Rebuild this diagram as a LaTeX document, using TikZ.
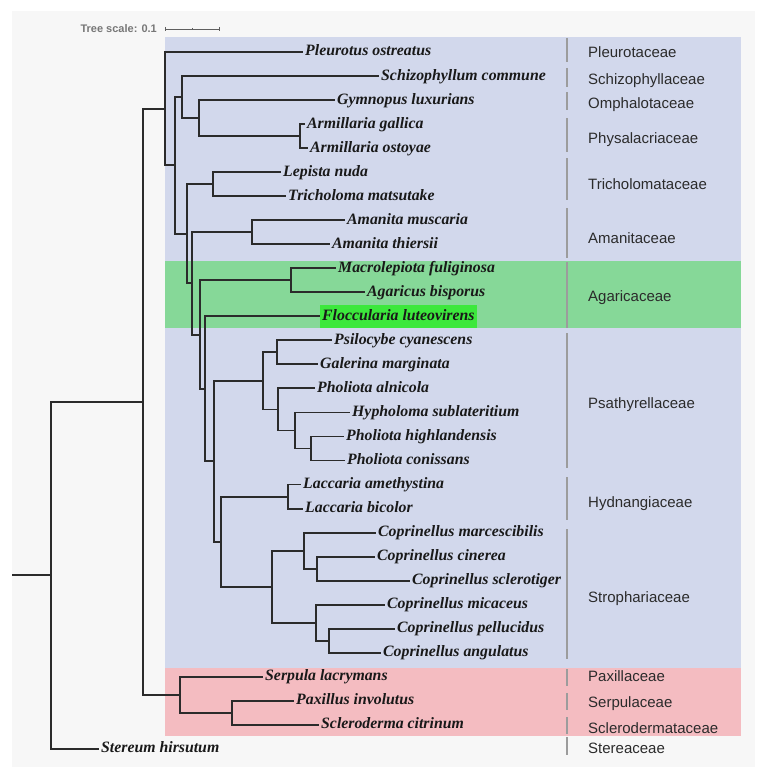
\documentclass[tikz,border=0pt]{standalone}
\usepackage{fontspec}
\setmainfont{Liberation Serif}
\setsansfont{Liberation Sans}
\usepackage{tikz}
\usetikzlibrary{backgrounds}
\definecolor{paper}    {HTML}{F7F7F7}
\definecolor{agblue}   {HTML}{D2D8EC}
\definecolor{aggreen}  {HTML}{86D898}
\definecolor{bolpink}  {HTML}{F4BCC1}
\definecolor{flocgreen}{HTML}{3CE83C}
\definecolor{ink}      {HTML}{2B2B2B}
\definecolor{inkgray}  {HTML}{777777}
\definecolor{bargray}  {HTML}{9C9C9C}

\begin{document}
\begin{tikzpicture}[x=1pt,y=-1pt,
    branch/.style={ink,line width=1.9pt},
    leaf/.style={anchor=west,inner xsep=2pt,inner ysep=4pt,text height=11pt,text depth=3pt,
      font=\fontsize{15.8}{18}\selectfont\bfseries\itshape,text=black!90},
    family/.style={anchor=west,inner sep=0pt,text height=10.7pt,text depth=0pt,
      font=\sffamily\fontsize{15}{17}\selectfont,text=ink},
    sepbar/.style={bargray,line width=2pt},
    scaletext/.style={anchor=east,inner sep=2pt,font=\sffamily\bfseries\fontsize{11}{13}\selectfont,text=inkgray},
    scalebar/.style={inkgray!80!black,line width=0.8pt}]
        \useasboundingbox (0,0) rectangle (763,776);
        \node[scaletext] (scale) at (159,29) {Tree scale: 0.1};
        \draw[scalebar] (165,29) -- (219,29) (165,27) -- (165,31) (192,28) -- (192,30) (219,27) -- (219,31);
        \foreach \sp/\tx [count=\i] in {
          Pleurotus ostreatus/305, Schizophyllum commune/381, Gymnopus luxurians/337,
          Armillaria gallica/307, Armillaria ostoyae/310, Lepista nuda/283,
          Tricholoma matsutake/288, Amanita muscaria/347, Amanita thiersii/332,
          Macrolepiota fuliginosa/338, Agaricus bisporus/367, Floccularia luteovirens/322,
          Psilocybe cyanescens/334, Galerina marginata/320, Pholiota alnicola/317,
          Hypholoma sublateritium/352, Pholiota highlandensis/346, Pholiota conissans/347,
          Laccaria amethystina/303, Laccaria bicolor/305, Coprinellus marcescibilis/378,
          Coprinellus cinerea/377, Coprinellus sclerotiger/412, Coprinellus micaceus/387,
          Coprinellus pellucidus/397, Coprinellus angulatus/383, Serpula lacrymans/265,
          Paxillus involutus/296, Scleroderma citrinum/321, Stereum hirsutum/101} {
          \node[leaf] (l\i) at (\tx-2,{52+24.03*(\i-1)}) {\sp};
        }
        \coordinate (stem) at (12,575.3);
        \coordinate (root) at (51,575.3);
        \coordinate (ingroup) at (143,401.75);
        \coordinate (agaricales) at (165,108.7);
        \coordinate (nb) at (175,165.4);
        \coordinate (nc) at (182,97.05);
        \coordinate (ne) at (199,118.1);
        \coordinate (armil) at (300,136.1);
        \coordinate (nd) at (187,233.8);
        \coordinate (trich) at (213,184.2);
        \coordinate (ng) at (192,283.4);
        \coordinate (amanit) at (252,232.2);
        \coordinate (nh) at (200,334.55);
        \coordinate (agaric) at (291,280.3);
        \coordinate (ni) at (205,388.8);
        \coordinate (nj) at (214,461.3);
        \coordinate (nk) at (263,380.9);
        \coordinate (npg) at (277,352.4);
        \coordinate (nl) at (278,409.45);
        \coordinate (nm) at (295,430.5);
        \coordinate (nn) at (311,448.5);
        \coordinate (no) at (221,541.65);
        \coordinate (laccar) at (288,496.6);
        \coordinate (copr) at (272,586.7);
        \coordinate (nq) at (304,550.65);
        \coordinate (nq2) at (317,568.7);
        \coordinate (nr) at (316,622.75);
        \coordinate (nr2) at (329,640.8);
        \coordinate (boletales) at (180,694.8);
        \coordinate (pax) at (232,712.85);
        \draw[branch] (stem) -- (root);
        \foreach \pa/\ch in {root/ingroup, root/l30, ingroup/agaricales, ingroup/boletales,
          agaricales/l1, agaricales/nb, nb/nc, nb/nd, nc/l2, nc/ne, ne/l3, ne/armil,
          armil/l4, armil/l5, nd/trich, nd/ng, trich/l6, trich/l7, ng/amanit, ng/nh,
          amanit/l8, amanit/l9, nh/agaric, nh/ni, agaric/l10, agaric/l11, ni/l12, ni/nj,
          nj/nk, nj/no, nk/npg, nk/nl, npg/l13, npg/l14, nl/l15, nl/nm, nm/l16, nm/nn,
          nn/l17, nn/l18, no/laccar, no/copr, laccar/l19, laccar/l20, copr/nq, copr/nr,
          nq/l21, nq/nq2, nq2/l22, nq2/l23, nr/l24, nr/nr2, nr2/l25, nr2/l26,
          boletales/l27, boletales/pax, pax/l28, pax/l29} {
          \draw[branch] (\pa) |- (\ch);
        }
        \foreach \fam/\fy/\ta/\tb [count=\j] in {
          Pleurotaceae/52/38/62, Schizophyllaceae/79/68/87, Omphalotaceae/103/92/110,
          Physalacriaceae/138/118/152, Tricholomataceae/184/158/200, Amanitaceae/238/208/258,
          Agaricaceae/296/262/328, Psathyrellaceae/403/333/468, Hydnangiaceae/502/477/520,
          Strophariaceae/597/529/659, Paxillaceae/676/669/686, Serpulaceae/702/693/710,
          Sclerodermataceae/728/717/734, Stereaceae/748/737/755} {
          \node[family] (f\j) at (588,\fy) {\fam};
          \draw[sepbar] (567,\ta) -- (567,\tb);
        }
        \begin{scope}[on background layer]
          \fill[paper] (12,11) rectangle (755,767);
          \fill[agblue] (165,37) rectangle (741,668);
          \fill[aggreen] (165,261) rectangle (741,328);
          \fill[bolpink] (165,668) rectangle (741,736);
          \fill[flocgreen] (l12.south west) rectangle (l12.north east);
        \end{scope}
      \end{tikzpicture}
\end{document}
